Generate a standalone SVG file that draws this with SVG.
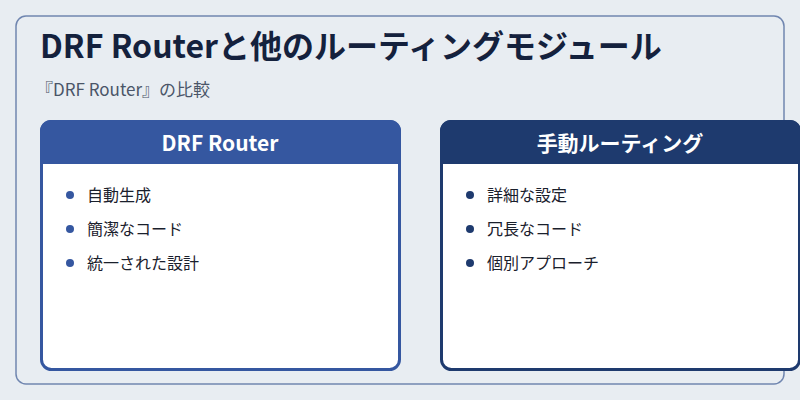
<svg xmlns="http://www.w3.org/2000/svg" width="800" height="400" viewBox="0 0 800 400">
<style>
text{font-family:"Noto Sans CJK JP","Noto Sans",sans-serif}
.t{font-size:32px;font-weight:bold;fill:#14213d}
.s{font-size:17px;fill:#4a5568}
.h{font-size:21px;font-weight:bold;fill:#fff}
.i{font-size:16px;fill:#1a202c}
</style>
<rect width="800" height="400" fill="#e8edf2"/>
<rect x="16" y="16" width="768" height="368" rx="10" fill="#e8edf2" stroke="#7086b0" stroke-width="1.5"/>
<text class="t" x="40" y="58">DRF Routerと他のルーティングモジュール</text>
<text class="s" x="36" y="96">『DRF Router』の比較</text>
<g id="drf">
<rect x="41.5" y="121.5" width="358" height="248" rx="10" fill="#fff" stroke="#3557a0" stroke-width="3"/>
<path d="M40 164 V131 A11 11 0 0 1 51 120 H390 A11 11 0 0 1 401 131 V164 Z" fill="#3557a0"/>
<text class="h" x="220" y="151" text-anchor="middle">DRF Router</text>
<g fill="#3557a0"><circle cx="70" cy="195" r="4"/><circle cx="70" cy="229" r="4"/><circle cx="70" cy="263" r="4"/></g>
<text class="i" x="87" y="201">自動生成</text>
<text class="i" x="87" y="235">簡潔なコード</text>
<text class="i" x="87" y="269">統一された設計</text>
</g>
<g id="manual">
<rect x="441.5" y="121.5" width="358" height="248" rx="10" fill="#fff" stroke="#1e3a6e" stroke-width="3"/>
<path d="M440 164 V131 A11 11 0 0 1 451 120 H790 A11 11 0 0 1 801 131 V164 Z" fill="#1e3a6e"/>
<text class="h" x="620" y="151" text-anchor="middle">手動ルーティング</text>
<g fill="#1e3a6e"><circle cx="470" cy="195" r="4"/><circle cx="470" cy="229" r="4"/><circle cx="470" cy="263" r="4"/></g>
<text class="i" x="487" y="201">詳細な設定</text>
<text class="i" x="487" y="235">冗長なコード</text>
<text class="i" x="487" y="269">個別アプローチ</text>
</g>
<g id="connectors"/>
</svg>
